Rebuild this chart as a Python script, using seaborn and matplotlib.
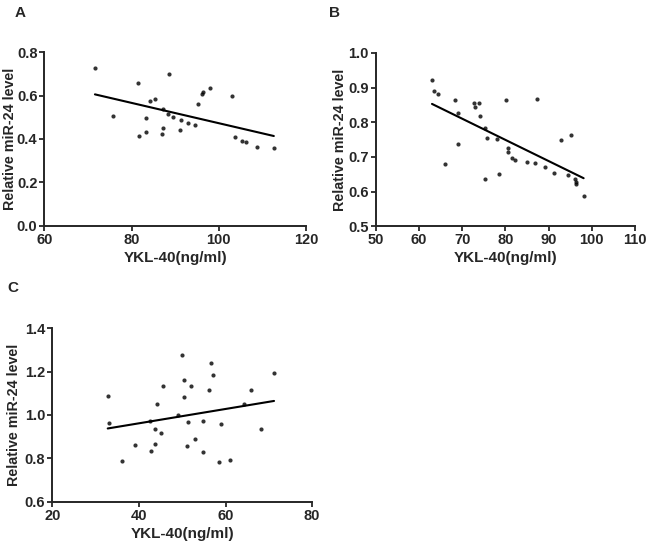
import numpy as np
import pandas as pd
import matplotlib
matplotlib.use("Agg")
import matplotlib.pyplot as plt
import seaborn as sns

# Panel A
a_ykl = [71.6, 75.7, 81.4, 81.8, 83.2, 83.2, 84.2, 85.3, 87.0, 87.3, 87.3, 88.3, 88.6, 89.4,
         91.0, 91.4, 93.0, 94.5, 95.3, 96.2, 96.4, 98.0, 103.0, 103.6, 105.2, 106.3, 108.7, 112.6]
a_mir = [0.725, 0.508, 0.658, 0.415, 0.432, 0.495, 0.577, 0.583, 0.421, 0.452, 0.537, 0.517, 0.698, 0.502,
         0.442, 0.488, 0.474, 0.465, 0.562, 0.606, 0.617, 0.637, 0.597, 0.411, 0.392, 0.385, 0.362, 0.358]

# Panel B
b_ykl = [63.0, 63.4, 64.3, 66.1, 68.3, 69.0, 69.0, 72.8, 72.9, 73.8, 74.0, 75.2, 75.2, 75.7, 78.1,
         78.6, 80.1, 80.5, 80.7, 81.5, 82.2, 85.1, 86.8, 87.2, 89.2, 91.3, 92.9, 94.4, 95.1, 96.2,
         96.3, 96.3, 98.1]
b_mir = [0.922, 0.891, 0.883, 0.681, 0.864, 0.828, 0.737, 0.855, 0.843, 0.855, 0.818, 0.785, 0.637, 0.755,
         0.752, 0.652, 0.864, 0.727, 0.714, 0.698, 0.691, 0.686, 0.683, 0.866, 0.671, 0.655, 0.749, 0.647,
         0.763, 0.637, 0.629, 0.621, 0.586]

# Panel C
c_ykl = [32.8, 33.2, 36.0, 39.0, 42.6, 44.2, 43.6, 45.0, 43.8, 42.8, 45.5, 49.1, 50.0, 50.5, 50.5, 51.4,
         52.0, 51.0, 52.9, 54.7, 54.9, 56.1, 56.7, 57.1, 59.0, 58.4, 61.1, 64.2, 65.9, 68.2, 71.2]
c_mir = [1.085, 0.965, 0.786, 0.862, 0.974, 1.051, 0.935, 0.917, 0.865, 0.832, 1.132, 1.0, 1.274, 1.162,
         1.083, 0.966, 1.132, 0.857, 0.891, 0.974, 0.831, 1.114, 1.237, 1.182, 0.958, 0.783, 0.791, 1.052,
         1.114, 0.937, 1.192]

panels = [
    ("A", a_ykl, a_mir, [60, 80, 100, 120], [0.0, 0.2, 0.4, 0.6, 0.8],
     [0.0684, 0.585, 0.404, 0.319], (20, 13), -0.105),
    ("B", b_ykl, b_mir, [50, 60, 70, 80, 90, 100, 110], [0.5, 0.6, 0.7, 0.8, 0.9, 1.0],
     [0.580, 0.584, 0.400, 0.3186], (335, 13), -0.112),
    ("C", c_ykl, c_mir, [20, 40, 60, 80], [0.6, 0.8, 1.0, 1.2, 1.4],
     [0.0807, 0.0778, 0.401, 0.319], (13, 288), -0.12),
]

sns.set_style("ticks")
plt.rcParams['font.family'] = ['Liberation Sans', 'DejaVu Sans']
plt.rcParams['font.weight'] = 'bold'

fig = plt.figure(figsize=(6.48, 5.44), dpi=100)

for label, xs, ys, xt, yt, pos, lab_xy, ylab_x in panels:
    ax = fig.add_axes(pos)
    df = pd.DataFrame({"ykl": xs, "mir": ys})
    sns.regplot(data=df, x="ykl", y="mir", ax=ax, ci=None, color="black",
                scatter_kws={"s": 9, "linewidths": 0}, line_kws={"linewidth": 1.5})
    ax.set_xlim(xt[0], xt[-1])
    ax.set_ylim(yt[0], yt[-1])
    ax.set_xticks(xt)
    ax.set_yticks(yt)
    ax.set_yticklabels([f"{v:.1f}" for v in yt])
    ax.tick_params(direction="out", length=3.5, width=1.3, labelsize=10.5, pad=1.5)
    for t in ax.get_xticklabels() + ax.get_yticklabels():
        t.set_fontweight("bold")
    for s in ["left", "bottom"]:
        ax.spines[s].set_linewidth(1.4)
    sns.despine(ax=ax)
    ax.set_xlabel("YKL-40(ng/ml)", fontsize=11, fontweight="bold", labelpad=3)
    ax.set_ylabel("Relative miR-24 level", fontsize=10.3, fontweight="bold")
    ax.yaxis.set_label_coords(ylab_x, 0.5)
    fig.text(lab_xy[0] / 648, 1 - lab_xy[1] / 544, label, fontsize=11, fontweight="bold",
             ha="center", va="center")

fig.savefig("out.png", dpi=100)
